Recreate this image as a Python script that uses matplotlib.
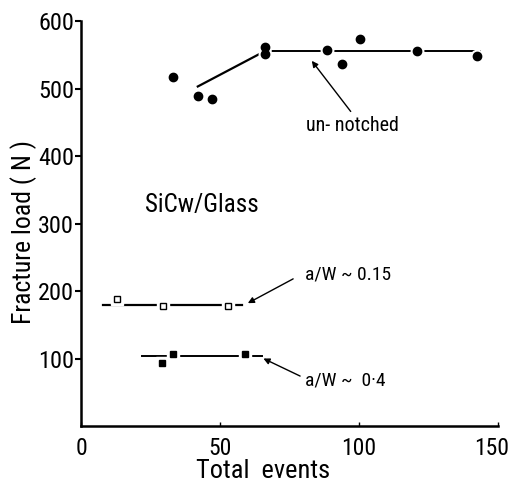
import matplotlib
matplotlib.use("Agg")
import matplotlib.pyplot as plt
import matplotlib.transforms as mtransforms
from matplotlib import font_manager


def pick_font(names):
    for n in names:
        try:
            font_manager.findfont(font_manager.FontProperties(family=n), fallback_to_default=False)
            return n
        except ValueError:
            pass
    return 'DejaVu Sans'


font = pick_font(['Roboto Condensed', 'Liberation Sans Narrow', 'Open Sans Condensed', 'Liberation Sans'])
plt.rcParams.update({
    "font.family": [font, "DejaVu Sans"],
    "font.size": 14,
    })

# Data
unnotched_x = [33, 42, 47, 66, 66, 88.5, 94, 100.5, 121, 142.5]
unnotched_y = [517, 489, 484, 562, 551, 557, 537, 574, 556, 548]
trend_x = [42, 65.5]
trend_y = [503, 554]
plateau_x = [68, 143.5]
plateau_y = [556, 556]

aw015_x = [13, 29.5, 53]
aw015_y = [188, 178, 178]
aw015_line_x = [8, 58]
aw015_line_y = [179, 179]

aw04_x = [29, 33, 59]
aw04_y = [94, 107, 106]
aw04_line_x = [22, 65]
aw04_line_y = [103, 103]

fig = plt.figure(figsize=(5.14, 4.84), dpi=100)
ax = fig.add_axes([0.1576, 0.1198, 0.8114, 0.8368])

# fitted lines
ax.plot(trend_x, trend_y, color='black', lw=1.6)
ax.plot(plateau_x, plateau_y, color='black', lw=1.4)
ax.plot(aw015_line_x, aw015_line_y, color='black', lw=1.6)
ax.plot(aw04_line_x, aw04_line_y, color='black', lw=1.4)

# white halos so the lines break at the markers
ax.plot(unnotched_x, unnotched_y, 'o', ms=9, color='white', ls='none')
ax.plot(aw015_x, aw015_y, 's', ms=8, color='white', ls='none')
ax.plot(aw04_x, aw04_y, 's', ms=8, color='white', ls='none')

ax.plot(unnotched_x, unnotched_y, 'o', ms=6, color='black', ls='none')
ax.plot(aw015_x, aw015_y, 's', ms=4, mfc='white', mec='black', mew=1, ls='none')
ax.plot(aw04_x, aw04_y, 's', ms=5, color='black', ls='none')

arrow = dict(arrowstyle='-|>', color='black', lw=1, mutation_scale=9, shrinkA=0, shrinkB=0)
ax.annotate('', xy=(83, 541), xytext=(97, 466), arrowprops=arrow)
ax.text(97.5, 445, 'un- notched', ha='center', va='center', fontsize=14.5)
ax.annotate('', xy=(60, 182), xytext=(76.3, 218), arrowprops=arrow)
ax.text(80.6, 225, 'a/W ~ 0.15', ha='left', va='center', fontsize=14)
ax.annotate('', xy=(65.6, 100), xytext=(78.8, 74), arrowprops=arrow)
ax.text(80.6, 68, 'a/W ~  0·4', ha='left', va='center', fontsize=14)
ax.text(23, 327, 'SiCw/Glass', ha='left', va='center', fontsize=18)

ax.set_xlim(0, 150)
ax.set_ylim(0, 600)
ax.set_xticks([0, 50, 100, 150])
ax.set_yticks([100, 200, 300, 400, 500, 600])
ax.spines['top'].set_visible(False)
ax.spines['right'].set_visible(False)
ax.spines['left'].set_linewidth(1.8)
ax.spines['bottom'].set_linewidth(1.8)
ax.tick_params(axis='x', direction='in', length=3, width=1, labelsize=17, pad=8)
ax.tick_params(axis='y', direction='out', length=4, width=1.5, labelsize=17.5, pad=1)

# nudge the last x label so it stays inside the figure
last = ax.get_xticklabels()[-1]
last.set_transform(last.get_transform() + mtransforms.ScaledTranslation(-0.06, 0, fig.dpi_scale_trans))

ax.set_xlabel('Total  events', fontsize=19, va='baseline')
ax.xaxis.set_label_coords(0.436, -0.128)
ax.set_ylabel('Fracture load ( N )', fontsize=18.5)
ax.yaxis.set_label_coords(-0.105, 0.479)

plt.savefig('out.png', dpi=100)
